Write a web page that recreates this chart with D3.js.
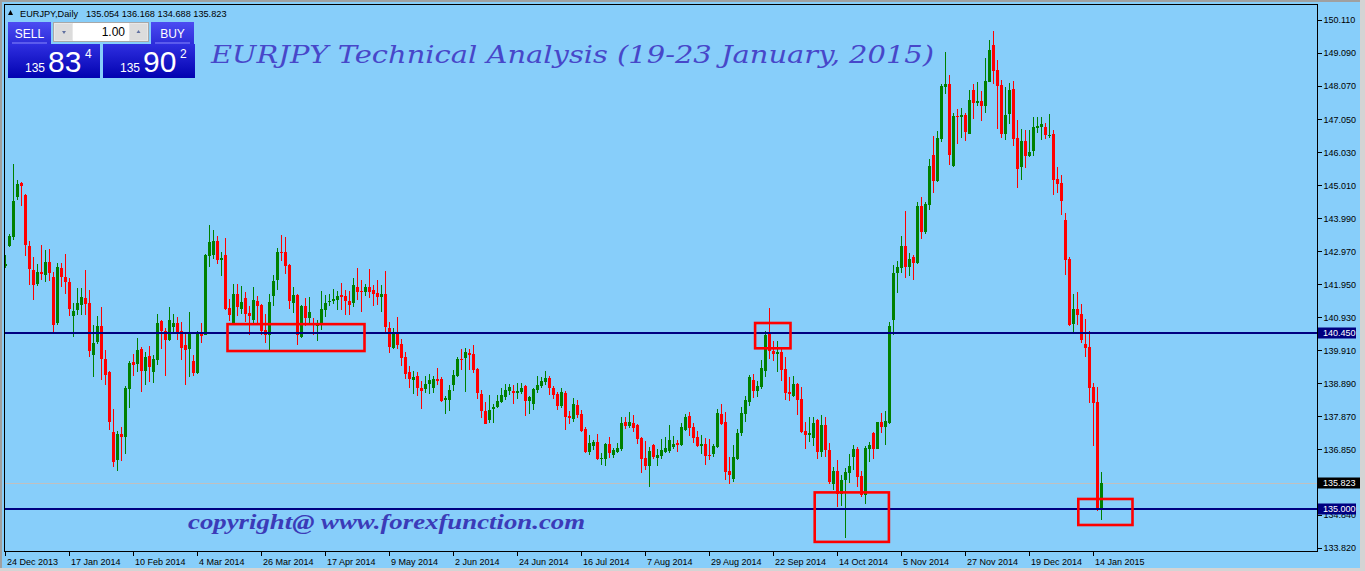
<!DOCTYPE html>
<html><head><meta charset="utf-8">
<script src="https://cdn.jsdelivr.net/npm/d3@7"></script>
<style>
html,body{margin:0;padding:0;background:#87cefa;overflow:hidden}
svg{display:block}
</style></head><body>
<svg id="chart" width="1365" height="571"></svg>
<script>
const symbolName = "EURJPY,Daily";
const chartTitle = "EURJPY Technical Analysis (19-23 January, 2015)";
const copyrightText = "copyright@ www.forexfunction.com";

const opens = [
142.52,143.12,143.42,144.63,145.08,144.71,143.14,142.40,141.96,142.33,
142.24,142.64,142.18,140.76,142.46,142.18,142.03,140.98,141.16,141.32,
141.53,141.38,139.77,140.17,140.67,139.65,139.25,137.40,136.53,137.33,
137.24,138.72,139.56,139.49,139.96,139.28,139.74,139.25,139.62,140.82,
140.51,140.23,140.63,140.76,140.51,140.08,139.95,139.58,139.21,140.45,
140.39,142.82,142.86,143.29,142.70,142.86,141.22,140.76,141.65,141.19,
141.53,141.06,140.85,141.44,141.31,140.54,140.39,141.59,142.08,142.95,
142.95,142.55,141.37,141.62,140.32,141.28,140.91,140.72,140.66,140.69,
141.16,141.40,141.43,141.47,141.62,141.59,141.43,141.37,141.87,141.74,
141.71,141.87,141.77,141.68,141.56,141.65,140.60,139.98,140.45,140.11,
139.71,139.24,138.99,139.12,138.75,138.72,138.87,138.75,139.03,139.03,
138.38,138.38,138.84,139.12,139.64,139.67,139.83,139.80,139.33,138.56,
138.04,137.76,138.10,138.16,138.32,138.47,138.66,138.66,138.59,138.63,
138.81,138.35,138.26,138.69,138.81,138.93,139.06,138.75,138.56,138.19,
138.59,137.88,137.79,138.22,137.95,137.48,136.77,136.96,137.08,136.56,
136.56,137.02,136.68,136.77,136.87,137.70,137.58,137.67,137.61,137.21,
136.59,136.35,136.99,136.59,136.65,136.78,136.81,136.93,137.05,136.99,
137.46,137.89,137.55,137.24,136.96,137.03,136.68,136.72,136.93,137.95,
137.70,136.19,135.94,136.56,137.36,137.95,138.32,139.00,138.66,138.78,
139.28,140.42,139.90,139.80,139.86,139.34,138.63,138.51,138.88,138.41,
137.42,137.30,137.22,137.76,136.78,137.60,136.83,135.79,136.18,135.48,
135.90,136.13,136.62,136.87,136.03,135.43,136.88,137.35,136.88,137.69,
137.53,137.66,140.86,142.29,142.46,143.13,142.49,142.80,142.62,144.36,
143.58,144.41,145.95,145.15,146.44,148.05,148.14,145.61,147.16,147.13,
147.18,146.59,147.95,147.56,147.61,147.44,148.21,149.34,148.57,148.10,
146.59,147.21,147.98,146.46,145.57,146.37,145.91,146.07,146.78,146.81,
146.81,146.54,146.59,145.20,145.08,143.94,142.73,140.72,141.19,141.03,
140.11,140.02,138.78,138.32,135.054];

const highs = [
142.86,143.51,145.67,145.17,145.10,144.73,143.29,142.78,142.58,143.17,
143.01,143.04,142.32,142.60,142.60,142.89,142.15,141.38,141.84,141.84,
142.40,141.78,140.70,140.98,141.25,139.93,139.27,138.11,137.43,137.55,
138.82,139.59,139.80,140.30,140.02,139.86,140.05,139.77,141.04,140.84,
140.59,141.25,141.03,140.94,140.79,140.48,141.10,139.77,140.51,140.76,
142.89,143.78,143.63,143.44,142.95,143.38,141.50,141.96,141.96,141.90,
141.71,141.28,141.87,141.59,141.33,141.03,141.65,142.24,143.07,143.47,
143.41,142.57,141.87,141.64,141.31,141.53,141.56,140.91,140.85,141.74,
141.62,141.65,141.80,141.74,141.99,141.77,141.74,142.14,142.45,142.08,
141.96,142.42,141.93,142.08,141.93,142.36,140.79,140.60,140.94,140.26,
139.86,139.43,139.27,139.24,138.96,139.12,139.18,139.12,139.37,139.09,
138.50,138.84,139.30,139.71,139.95,139.98,139.95,140.08,139.36,138.69,
138.32,138.53,138.26,138.53,138.75,138.87,138.87,138.84,138.90,138.90,
138.84,138.49,138.75,139.12,139.09,139.27,139.12,138.81,138.63,138.75,
138.66,138.04,138.44,138.38,138.07,137.55,137.30,137.14,137.33,136.74,
137.05,137.24,136.90,137.05,137.85,137.85,138.01,137.92,137.64,137.24,
137.12,136.93,137.01,136.87,137.18,137.24,137.61,137.27,137.15,137.67,
137.95,138.01,137.67,137.43,137.30,137.21,137.18,137.02,138.10,138.26,
138.01,136.62,137.00,137.49,138.17,138.51,139.15,139.19,138.97,139.62,
140.51,141.22,140.20,140.20,140.02,139.71,139.09,139.12,138.91,138.78,
137.71,137.84,137.84,137.78,137.91,137.84,137.06,136.31,136.52,136.05,
136.28,136.72,136.98,136.93,136.19,136.95,137.09,137.38,137.71,137.99,
138.04,140.79,142.56,142.66,143.44,144.22,142.93,142.84,144.48,144.66,
144.50,145.82,146.52,146.67,148.12,149.11,148.41,147.25,147.35,147.40,
147.23,147.95,148.13,148.21,147.92,148.95,149.49,149.77,148.88,148.26,
148.04,148.16,148.23,147.02,146.75,146.71,146.71,147.10,147.10,147.10,
146.93,147.20,146.71,145.57,145.33,144.15,142.79,141.65,141.71,141.34,
140.88,140.51,138.90,138.78,136.168];

const lows = [
142.45,143.10,143.32,144.54,144.38,142.81,141.93,141.47,141.90,142.09,
142.01,142.04,140.49,140.70,141.87,141.66,140.96,140.31,141.01,141.01,
141.01,139.71,139.09,140.11,139.00,138.85,137.46,136.32,136.19,136.50,
136.72,138.14,139.12,139.25,138.63,138.85,138.94,138.91,139.46,139.96,
139.13,140.21,140.42,140.23,139.61,138.84,139.09,139.13,139.19,140.14,
140.37,142.48,142.73,142.58,142.21,141.17,140.82,140.73,140.97,141.03,
140.79,140.39,140.69,140.69,140.39,140.14,139.92,141.28,141.77,142.67,
142.27,141.19,141.06,140.08,140.30,140.66,140.69,140.39,140.20,140.54,
140.94,141.28,141.34,141.16,141.16,141.00,141.00,141.25,141.47,141.09,
141.59,141.53,141.28,141.31,141.09,140.48,139.83,139.96,139.95,139.43,
139.03,138.75,138.56,138.50,138.10,138.59,138.56,138.59,138.84,138.33,
137.95,138.04,138.66,139.10,139.30,138.62,139.30,139.21,138.41,137.82,
137.64,137.68,137.68,138.13,138.30,138.38,138.53,138.26,138.41,138.56,
137.89,137.95,138.07,138.59,138.75,138.84,138.53,138.41,138.07,138.13,
137.45,137.64,137.70,137.82,137.40,136.75,136.68,136.84,136.54,136.37,
136.34,136.59,136.59,136.75,136.80,137.48,137.51,137.39,137.02,136.12,
136.22,135.70,136.56,136.35,136.56,136.75,136.75,136.87,136.78,136.96,
137.43,137.27,137.06,136.94,136.72,136.38,136.53,136.62,136.90,137.62,
135.91,135.79,135.85,136.54,137.27,137.70,138.20,138.44,138.48,138.72,
139.09,139.65,139.59,139.25,138.97,138.38,138.35,138.48,137.92,137.36,
136.85,137.09,136.95,136.55,136.62,136.62,135.79,135.59,135.07,135.12,
134.11,135.83,136.21,135.69,135.38,135.17,136.45,136.57,136.85,137.37,
137.00,137.63,140.37,141.67,142.31,142.15,142.20,142.07,142.57,143.34,
143.50,144.25,144.76,145.10,146.34,147.84,145.63,145.56,146.27,146.46,
146.37,146.59,147.05,147.44,146.99,147.25,148.19,148.13,146.74,146.48,
146.39,146.90,146.23,144.91,145.17,145.55,145.88,145.92,146.62,146.41,
146.44,146.46,144.71,144.77,144.09,142.24,140.66,140.48,140.69,140.14,
139.71,138.29,136.96,134.95,134.688];

const closes = [
142.58,143.45,144.53,145.05,144.97,143.17,142.42,141.93,142.33,142.27,
142.64,142.31,140.70,142.49,142.16,142.03,141.20,141.13,141.38,141.56,
141.35,139.90,140.14,140.67,139.65,139.16,137.70,136.47,137.33,137.24,
138.75,139.53,139.46,139.93,139.28,139.71,139.40,139.65,140.76,140.51,
140.23,140.85,140.76,140.48,139.98,139.92,140.42,139.21,140.42,140.35,
142.86,143.26,143.29,142.70,142.76,141.19,141.00,141.65,141.25,141.40,
141.03,140.97,141.47,141.28,140.51,140.39,141.40,142.05,142.95,142.92,
142.52,141.44,141.62,140.39,141.28,140.91,141.10,140.69,140.72,141.19,
141.37,141.43,141.50,141.59,141.56,141.43,141.31,141.93,141.71,141.71,
141.87,141.71,141.65,141.56,141.65,140.63,140.01,140.45,140.08,139.67,
139.18,139.03,139.09,138.75,138.66,138.87,138.99,139.03,138.96,138.35,
138.44,138.69,139.15,139.64,139.61,139.86,139.77,139.30,138.59,138.05,
137.65,138.07,138.16,138.35,138.53,138.69,138.78,138.59,138.66,138.75,
138.35,138.47,138.72,138.84,138.97,139.06,138.75,138.53,138.19,138.63,
137.85,137.82,138.26,137.92,137.42,136.77,137.05,137.08,136.56,136.59,
137.02,136.74,136.84,136.90,137.67,137.58,137.70,137.51,137.17,136.56,
136.35,136.81,136.62,136.68,136.84,136.90,137.15,137.02,136.99,137.55,
137.86,137.52,137.21,136.96,137.03,136.65,136.65,136.96,137.98,137.64,
136.16,136.07,136.62,137.36,137.98,138.38,139.09,138.66,138.81,139.37,
140.39,139.90,139.80,139.86,139.31,138.60,138.57,138.88,138.38,137.39,
137.30,137.35,137.68,136.78,137.60,136.83,135.85,136.18,135.48,135.90,
136.16,136.34,136.87,136.00,135.43,136.90,136.99,136.88,137.69,137.53,
137.72,140.65,142.29,142.49,143.13,142.49,142.72,142.62,144.36,143.58,
144.43,145.59,145.15,146.47,148.07,148.14,145.95,147.14,147.13,147.18,
146.66,147.64,147.56,147.61,147.44,148.23,149.18,148.55,148.08,146.59,
147.18,147.95,146.44,145.51,146.37,145.91,146.05,146.81,146.84,146.90,
146.56,146.57,145.17,145.05,144.52,142.70,140.69,141.19,141.00,140.23,
139.98,138.75,138.29,135.03,135.823];

const dateLabels = ["24 Dec 2013","17 Jan 2014","10 Feb 2014","4 Mar 2014","26 Mar 2014",
  "17 Apr 2014","9 May 2014","2 Jun 2014","24 Jun 2014","16 Jul 2014","7 Aug 2014",
  "29 Aug 2014","22 Sep 2014","14 Oct 2014","5 Nov 2014","27 Nov 2014","19 Dec 2014","14 Jan 2015"];
const dateLabelBars = [0,16,32,48,64,80,96,112,128,144,160,176,192,208,224,240,256,272];

const priceTicks = [150.110,149.090,148.070,147.050,146.030,145.010,143.990,142.970,141.950,
  140.930,139.910,138.890,137.870,136.850,135.830,134.840,133.820];

const levelLines = [140.450, 135.000];
const bidPrice = 135.823;
const sellQuote = ["135", "83", "4"];
const buyQuote = ["135", "90", "2"];
const lotSize = "1.00";

// annotation boxes: [bar from, bar to, price top, price bottom]
const boxBarFrom = [55.5, 187.4, 202.3, 268.2];
const boxBarTo = [89.75, 196.25, 220.85, 281.75];
const boxPriceTop = [140.72, 140.755, 135.525, 135.322];
const boxPriceBottom = [139.89, 139.974, 133.997, 134.519];

const W = 1365, H = 571;
const L = 4, T = 4, R = 1317, B = 551;
const svg = d3.select("#chart");
const FONT = "'Liberation Sans', Arial, sans-serif";

const x = d3.scaleLinear().domain([0, 274]).range([5.5, 1101.5]);
const y = d3.scaleLinear().domain([133.716, 150.573]).range([551, 5]);

// background & window frame
svg.append("rect").attr("width", W).attr("height", H).attr("fill", "#87cefa");
svg.append("rect").attr("x", 0).attr("y", 0).attr("width", W).attr("height", 2).attr("fill", "#a0a0a0");
svg.append("rect").attr("x", 0).attr("y", 0).attr("width", 2).attr("height", H).attr("fill", "#a0a0a0");
svg.append("rect").attr("x", 1360).attr("y", 0).attr("width", 5).attr("height", H).attr("fill", "#d4d4d4");
svg.append("rect").attr("x", 0).attr("y", 568).attr("width", W).attr("height", 3).attr("fill", "#d4d4d4");

const defs = svg.append("defs");
defs.append("clipPath").attr("id", "plotclip").append("rect")
  .attr("x", L + 1).attr("y", T + 1).attr("width", R - L - 1).attr("height", B - T - 1);

const plot = svg.append("g").attr("clip-path", "url(#plotclip)");

// bid line
plot.append("line").attr("x1", L).attr("x2", R)
  .attr("y1", Math.round(y(bidPrice)) + 0.5).attr("y2", Math.round(y(bidPrice)) + 0.5)
  .attr("stroke", "#c0c0c0").attr("stroke-width", 1);

// candles
const bars = d3.range(opens.length).map(i => ({i, o: opens[i], h: highs[i], l: lows[i], c: closes[i]}));
const cg = plot.append("g").attr("shape-rendering", "crispEdges");
const candle = cg.selectAll("g").data(bars).join("g");
candle.append("rect")
  .attr("x", d => x(d.i) - 0.5).attr("width", 1)
  .attr("y", d => y(d.h)).attr("height", d => Math.max(1, y(d.l) - y(d.h)))
  .attr("fill", d => d.c >= d.o ? "#008000" : "#ff0000");
candle.append("rect")
  .attr("x", d => x(d.i) - 1.5).attr("width", 3)
  .attr("y", d => y(Math.max(d.o, d.c)))
  .attr("height", d => Math.max(1, Math.abs(y(d.o) - y(d.c))))
  .attr("fill", d => d.c >= d.o ? "#008000" : "#ff0000");

// level lines
plot.selectAll("line.level").data(levelLines).join("line").attr("class", "level")
  .attr("x1", L).attr("x2", R)
  .attr("y1", d => Math.round(y(d))).attr("y2", d => Math.round(y(d)))
  .attr("stroke", "#000080").attr("stroke-width", 2);

// annotation boxes
plot.selectAll("rect.box").data(boxBarFrom.map((b, k) => k)).join("rect").attr("class", "box")
  .attr("x", k => x(boxBarFrom[k])).attr("width", k => x(boxBarTo[k]) - x(boxBarFrom[k]))
  .attr("y", k => y(boxPriceTop[k])).attr("height", k => y(boxPriceBottom[k]) - y(boxPriceTop[k]))
  .attr("fill", "none").attr("stroke", "#ff0000").attr("stroke-width", 2.6);

// title & copyright
svg.append("text").attr("x", 211).attr("y", 63)
  .attr("font-family", "'DejaVu Serif', 'Liberation Serif', serif").attr("font-style", "italic")
  .attr("font-size", 25).attr("fill", "#4747c9")
  .attr("textLength", 723).attr("lengthAdjust", "spacingAndGlyphs")
  .text(chartTitle);
svg.append("text").attr("x", 188).attr("y", 529)
  .attr("font-family", "'Liberation Serif', 'DejaVu Serif', serif").attr("font-style", "italic").attr("font-weight", "bold")
  .attr("font-size", 20).attr("fill", "#3b3bb8")
  .attr("textLength", 397).attr("lengthAdjust", "spacingAndGlyphs")
  .text(copyrightText);

// plot frame
svg.append("rect").attr("x", L + 0.5).attr("y", T + 0.5).attr("width", R - L).attr("height", B - T)
  .attr("fill", "none").attr("stroke", "#000").attr("stroke-width", 1).attr("shape-rendering", "crispEdges");

// right price axis
const yAxis = d3.axisRight(y).tickValues(priceTicks).tickFormat(d3.format(".3f")).tickSize(4).tickPadding(2);
const ya = svg.append("g").attr("transform", `translate(${R + 0.5},0)`).call(yAxis);
ya.select(".domain").remove();
ya.selectAll("line").attr("stroke", "#000").attr("shape-rendering", "crispEdges");
ya.selectAll("text").attr("font-family", FONT).attr("font-size", 9).attr("fill", "#000");

// bottom date axis
const xAxis = d3.axisBottom(x).tickValues(dateLabelBars).tickFormat((d, k) => dateLabels[k]).tickSize(4).tickPadding(3);
const xa = svg.append("g").attr("transform", `translate(-1,${B + 0.5})`).call(xAxis);
xa.select(".domain").remove();
xa.selectAll("line").attr("stroke", "#000").attr("shape-rendering", "crispEdges");
xa.selectAll("text").attr("font-family", FONT).attr("font-size", 9).attr("fill", "#000")
  .attr("text-anchor", "start").attr("x", 2);

// price labels on axis
const tagG = svg.append("g");
levelLines.forEach(v => {
  const yy = Math.round(y(v));
  tagG.append("rect").attr("x", R + 1).attr("y", yy - 5.5).attr("width", 38).attr("height", 11).attr("fill", "#000080");
  tagG.append("text").attr("x", R + 6).attr("y", yy + 3.3).attr("font-family", FONT).attr("font-size", 9)
    .attr("fill", "#fff").text(d3.format(".3f")(v));
});
{
  const yy = Math.round(y(bidPrice));
  tagG.append("rect").attr("x", R + 1).attr("y", yy - 5.5).attr("width", 42).attr("height", 11).attr("fill", "#000");
  tagG.append("text").attr("x", R + 6).attr("y", yy + 3.3).attr("font-family", FONT).attr("font-size", 9)
    .attr("fill", "#fff").text(d3.format(".3f")(bidPrice));
}

// header
svg.append("path").attr("d", "M8,15 L13,15 L10.5,10 Z").attr("fill", "#000");
svg.append("text").attr("x", 20).attr("y", 16.5).attr("font-family", FONT).attr("font-size", 9.2).attr("fill", "#000")
  .text(symbolName);
svg.append("text").attr("x", 86).attr("y", 16.5).attr("font-family", FONT).attr("font-size", 9.2).attr("fill", "#000")
  .text([opens[274], highs[274], lows[274], closes[274]].map(d3.format(".3f")).join(" "));

// one-click panel
const gTab = defs.append("linearGradient").attr("id", "gtab").attr("x1", 0).attr("y1", 0).attr("x2", 0).attr("y2", 1);
gTab.append("stop").attr("offset", "0%").attr("stop-color", "#4c4cf2");
gTab.append("stop").attr("offset", "100%").attr("stop-color", "#2b2bd8");
const gBox = defs.append("linearGradient").attr("id", "gbox").attr("x1", 0).attr("y1", 0).attr("x2", 0).attr("y2", 1);
gBox.append("stop").attr("offset", "0%").attr("stop-color", "#2f2fe0");
gBox.append("stop").attr("offset", "100%").attr("stop-color", "#0202b0");

const panel = svg.append("g");
[[8, "SELL", sellQuote], [151, "BUY", buyQuote]].forEach(([tx, label]) => {
  panel.append("rect").attr("x", tx).attr("y", 22).attr("width", 43).attr("height", 23).attr("fill", "url(#gtab)");
  panel.append("text").attr("x", tx + 21.5).attr("y", 37.5).attr("text-anchor", "middle")
    .attr("font-family", FONT).attr("font-size", 12).attr("fill", "#fff").text(label);
  panel.append("rect").attr("x", tx + 4).attr("y", 42.5).attr("width", 35).attr("height", 1).attr("fill", "#8a8aff");
});
[[8, sellQuote], [103, buyQuote]].forEach(([bx, q]) => {
  panel.append("rect").attr("x", bx).attr("y", 44).attr("width", 92).attr("height", 34).attr("fill", "url(#gbox)");
  panel.append("text").attr("x", bx + 17).attr("y", 72).attr("font-family", FONT).attr("font-size", 12).attr("fill", "#fff").text(q[0]);
  panel.append("text").attr("x", bx + 40).attr("y", 72).attr("font-family", FONT).attr("font-size", 30).attr("fill", "#fff").text(q[1]);
  panel.append("text").attr("x", bx + 77).attr("y", 57.5).attr("font-family", FONT).attr("font-size", 12).attr("fill", "#fff").text(q[2]);
});
panel.append("rect").attr("x", 53.5).attr("y", 22.5).attr("width", 95).attr("height", 19).attr("fill", "#e8e8e8").attr("stroke", "#a8a8a8");
panel.append("rect").attr("x", 73).attr("y", 23).attr("width", 56).attr("height", 18).attr("fill", "#fff");
panel.append("rect").attr("x", 55).attr("y", 24).attr("width", 17).attr("height", 16).attr("fill", "#dcdcdc");
panel.append("rect").attr("x", 130).attr("y", 24).attr("width", 17).attr("height", 16).attr("fill", "#dcdcdc");
panel.append("path").attr("d", "M62,31 L66,31 L64,34 Z").attr("fill", "#6070a0");
panel.append("path").attr("d", "M136.5,33 L140.5,33 L138.5,30 Z").attr("fill", "#6070a0");
panel.append("text").attr("x", 125).attr("y", 36).attr("text-anchor", "end").attr("font-family", FONT)
  .attr("font-size", 12).attr("fill", "#000").text(lotSize);
</script>
</body></html>
